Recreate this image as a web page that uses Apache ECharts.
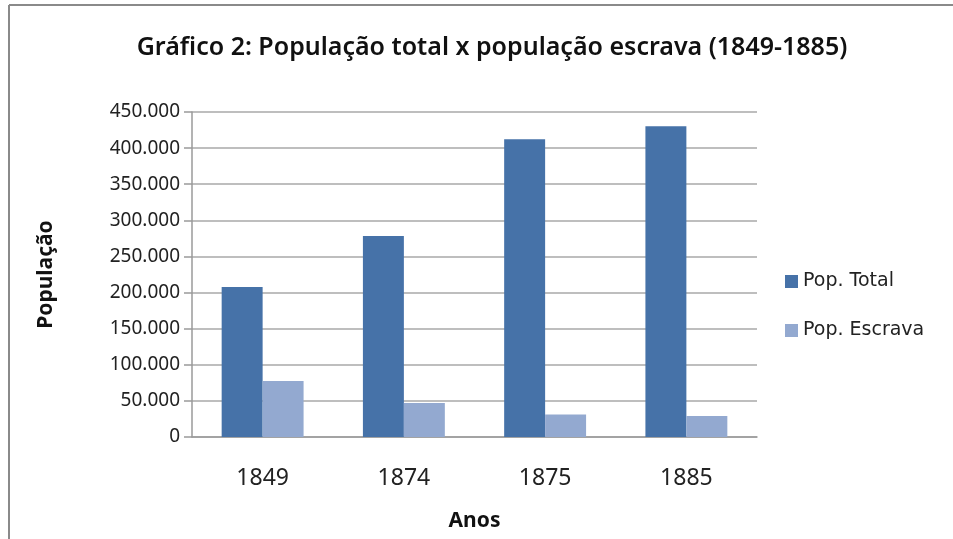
<!DOCTYPE html>
<html lang="pt">
<head>
    <meta charset="UTF-8">
    <title>Gráfico 2</title>
    <script src="https://cdn.jsdelivr.net/npm/echarts@6/dist/echarts.min.js"></script>
    <style>
        html, body { margin: 0; padding: 0; background: #fff; }
        #chart { width: 953px; height: 539px; }
    </style>
</head>
<body>
<div id="chart"></div>
<script>
    var anos = ['1849', '1874', '1875', '1885'];
    var popTotal = [207700, 278300, 412200, 430200];
    var popEscrava = [77500, 47000, 31000, 29000];
    var yTicks = [0, 50000, 100000, 150000, 200000, 250000, 300000, 350000, 400000, 450000];

    function fmt(v) {
        if (v === 0) return '0';
        return String(v).replace(/\B(?=(\d{3})+(?!\d))/g, '.');
    }

    var chart = echarts.init(document.getElementById('chart'));
    chart.setOption({
        animation: false,
        textStyle: { fontFamily: 'Noto Sans' },
        title: {
            text: 'Gráfico 2: População total x população escrava (1849-1885)',
            left: 487,
            top: 30,
            textAlign: 'center',
            textStyle: { fontSize: 25, fontWeight: 600, color: '#111' }
        },
        legend: {
            orient: 'vertical',
            left: 780,
            top: 267,
            itemWidth: 13,
            itemHeight: 13,
            itemGap: 30,
            icon: 'rect',
            textStyle: { fontSize: 19, fontFamily: 'DejaVu Sans', color: '#222' },
            data: ['Pop. Total', 'Pop. Escrava']
        },
        grid: { left: 192, right: 196, top: 112, bottom: 102 },
        xAxis: {
            type: 'category',
            data: anos,
            name: 'Anos',
            nameLocation: 'middle',
            nameGap: 74,
            nameTextStyle: { fontSize: 21, fontWeight: 'bold', color: '#111' },
            axisLine: { lineStyle: { color: '#9a9a9a', width: 1.5 } },
            axisTick: { show: false },
            axisLabel: { fontSize: 23, color: '#222', margin: 30 }
        },
        yAxis: {
            type: 'value',
            min: yTicks[0],
            max: yTicks[yTicks.length - 1],
            interval: 50000,
            name: 'População',
            nameLocation: 'middle',
            nameGap: 135,
            nameTextStyle: { fontSize: 21, fontWeight: 'bold', color: '#111' },
            axisLine: { show: true, lineStyle: { color: '#9a9a9a', width: 1.5 } },
            axisTick: { show: true, length: 8, lineStyle: { color: '#9a9a9a', width: 1.5 } },
            axisLabel: { fontSize: 19, color: '#222', margin: 12, formatter: fmt },
            splitLine: { lineStyle: { color: '#a8a8a8', width: 1.5 } }
        },
        series: [
            {
                name: 'Pop. Total',
                type: 'bar',
                data: popTotal,
                barGap: '0%',
                barCategoryGap: '42%',
                itemStyle: { color: '#4672A8' }
            },
            {
                name: 'Pop. Escrava',
                type: 'bar',
                data: popEscrava,
                itemStyle: { color: '#93A9D0' }
            }
        ],
        graphic: [
            { type: 'line', shape: { x1: 9, y1: 5, x2: 9, y2: 539 }, style: { stroke: '#8a8a8a', lineWidth: 2 } },
            { type: 'line', shape: { x1: 9, y1: 5, x2: 953, y2: 5 }, style: { stroke: '#8a8a8a', lineWidth: 2 } }
        ]
    });
</script>
</body>
</html>
